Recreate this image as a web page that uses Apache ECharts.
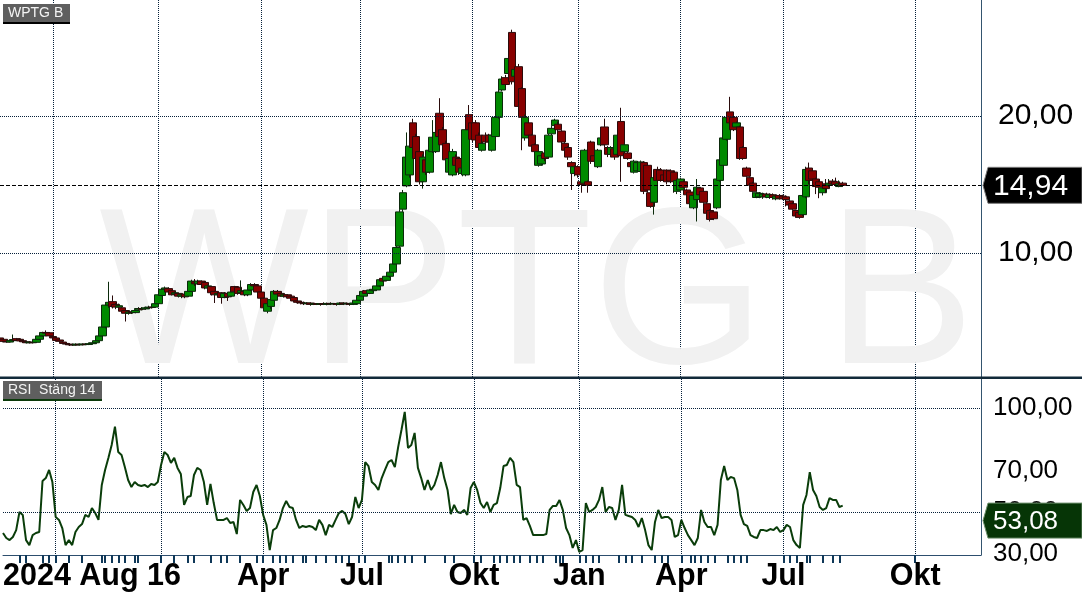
<!DOCTYPE html>
<html><head><meta charset="utf-8">
<script src="https://cdn.jsdelivr.net/npm/echarts@6/dist/echarts.min.js"></script>
<style>html,body{margin:0;padding:0;background:#fff;}#c{width:1082px;height:598px;}</style>
</head><body><div id="c"></div>
<script>
const symbolName = 'WPTG B';
const rsiTitle = 'RSI  Stäng 14';
// [open, close, low, high], one slot = 2 trading days
const candles = [
[3.80,3.60,3.55,3.85],[3.70,3.55,3.50,3.75],[3.55,3.50,3.45,3.60],[3.50,3.62,3.48,3.65],[3.60,3.68,3.55,4.05],
[3.75,3.62,3.58,3.80],[3.70,3.58,3.55,3.75],[3.60,3.52,3.45,3.65],[3.52,3.45,3.40,3.58],[3.45,3.50,3.40,3.55],
[3.48,3.45,3.40,3.52],[3.48,3.70,3.45,3.75],[3.70,3.95,3.65,4.00],[3.95,4.20,3.90,4.25],[4.20,4.15,4.05,4.35],
[4.18,3.95,3.90,4.22],[3.90,3.80,3.72,3.95],[3.80,3.62,3.58,3.85],[3.65,3.55,3.50,3.70],[3.50,3.40,3.35,3.55],
[3.40,3.35,3.28,3.45],[3.35,3.30,3.22,3.40],[3.32,3.28,3.22,3.38],[3.28,3.35,3.25,3.40],[3.33,3.30,3.25,3.38],
[3.30,3.36,3.26,3.40],[3.35,3.32,3.28,3.40],[3.32,3.38,3.28,3.42],[3.38,3.45,3.35,3.50],[3.45,3.60,3.42,3.65],
[3.60,3.95,3.55,4.00],
[3.95,4.60,3.90,4.70],[4.60,6.20,4.50,6.40],[6.20,6.40,6.00,7.90],[6.45,6.10,5.95,6.90],[6.25,6.05,5.90,6.35],
[6.05,6.15,5.95,6.30],[6.00,5.75,5.65,6.05],[5.80,5.60,5.00,5.85],[5.60,5.70,5.50,5.80],[5.70,5.65,5.55,5.80],
[5.65,5.80,5.60,5.90],[5.85,5.95,5.80,6.05],[5.95,5.90,5.82,6.05],[5.92,6.00,5.85,6.08],[6.00,6.05,5.95,6.15],
[6.05,6.02,5.95,6.12],[6.05,6.30,6.00,6.40],[6.30,6.95,6.25,7.00],[6.90,7.35,6.85,7.40],[7.35,7.45,7.20,7.55],
[7.40,7.15,7.05,7.50],[7.25,6.95,6.90,7.30],[7.00,7.10,6.90,7.20],[7.05,6.85,6.75,7.10],[6.85,6.95,6.70,7.05],
[7.00,6.80,6.70,7.05],[6.85,7.20,6.80,7.30],[7.20,7.95,7.15,8.05],[7.90,7.75,7.60,8.10],[7.75,7.95,7.70,8.05],
[7.95,7.70,7.60,8.00],[7.85,7.45,7.35,7.95],[7.45,7.60,7.30,7.70],[7.55,7.10,6.90,7.60],[7.20,6.95,6.35,7.25],
[6.95,7.05,6.85,7.15],[7.10,6.75,6.30,7.15],[6.75,7.05,6.70,7.15],[7.05,6.80,6.50,7.10],[6.85,7.15,6.80,7.25],
[7.55,7.20,7.10,7.60],[7.50,7.05,6.95,7.55],[7.10,7.25,7.00,8.00],[7.20,6.95,6.85,7.30],[6.95,7.30,6.85,7.35],
[7.30,7.70,7.25,7.80],[7.70,7.60,7.50,7.80],[7.60,7.15,7.05,7.70],[7.15,6.70,6.50,7.20],[6.70,6.00,5.80,6.75],
[5.75,6.30,5.60,6.40],[6.10,6.60,5.90,6.70],[6.55,7.20,6.50,7.30],[7.20,7.00,6.90,7.30],[7.05,6.85,6.80,7.10],
[6.85,6.95,6.75,7.05],[6.95,6.80,6.70,7.00],[6.85,6.70,6.60,6.90],[6.75,6.50,6.45,6.80],[6.50,6.40,6.30,6.55],
[6.40,6.35,6.25,6.45],[6.35,6.30,6.20,6.45],[6.30,6.35,6.25,6.40],[6.35,6.25,6.15,6.40],[6.25,6.30,6.20,6.35],
[6.30,6.25,6.20,6.35],[6.25,6.30,6.15,6.35],[6.30,6.25,6.20,6.40],[6.25,6.32,6.18,6.38],[6.32,6.28,6.20,6.40],
[6.28,6.30,6.20,6.35],[6.30,6.25,6.15,6.35],[6.25,6.35,6.20,6.40],[6.35,6.28,6.20,6.40],[6.28,6.32,6.20,6.38],
[6.30,6.25,6.15,6.35],[6.25,6.35,6.20,6.40],[6.30,6.55,6.25,6.60],[6.55,6.90,6.50,6.95],[6.85,7.20,6.80,7.30],
[7.25,7.05,7.00,7.30],[7.05,7.30,7.00,7.35],[7.25,7.35,7.20,7.45],[7.30,7.60,7.25,7.65],[7.60,8.05,7.55,8.10],
[8.15,7.95,7.90,8.20],[8.00,8.30,7.95,8.40],[8.30,8.60,8.20,8.70],[8.60,9.20,8.55,9.30],[9.20,10.40,9.10,10.60],
[10.50,13.00,10.40,13.20],[13.20,14.40,13.00,14.60],[14.90,17.00,14.80,18.80],[15.70,17.80,15.50,18.00],[19.50,17.70,17.50,19.80],
[18.50,16.90,16.50,18.70],[17.40,15.20,15.00,17.60],[15.20,17.00,14.70,17.20],[16.80,15.90,15.70,17.00],[15.90,17.50,15.80,17.70],
[17.40,18.45,17.30,19.70],[17.40,18.80,17.30,19.00],[20.20,18.50,18.30,21.30],[19.00,17.90,17.70,19.20],[18.00,16.80,16.60,18.20],
[15.90,16.90,15.80,17.10],[15.70,17.40,15.60,17.60],[17.00,16.40,16.20,17.20],[16.90,15.90,15.70,17.00],[15.80,16.20,15.60,16.40],
[15.70,19.00,15.60,19.20],[20.10,19.00,18.80,20.80],[19.50,18.30,18.10,19.70],[19.50,18.25,18.00,19.70],[18.60,17.70,17.50,18.80],
[17.50,18.00,17.40,18.10],[18.60,18.10,17.90,18.80],[18.60,18.10,17.90,18.70],[17.50,18.60,17.40,18.70],[18.50,19.90,18.40,20.00],
[19.90,21.75,19.80,21.90],[21.90,22.70,21.80,22.90],[22.80,22.30,22.10,23.00],[23.10,24.20,23.00,25.20],[26.10,22.50,22.30,26.30],
[22.90,23.40,22.70,23.60],[23.60,20.70,20.50,23.80],[22.00,19.90,17.50,22.10],[18.40,19.90,18.20,20.10],[19.50,18.60,18.40,19.70],
[18.60,17.80,17.60,18.70],[17.90,17.40,17.20,18.00],[16.40,17.40,16.30,17.50],[16.50,17.10,16.40,17.20],[17.30,16.90,16.70,17.40],
[17.00,18.60,16.90,18.70],[18.70,19.10,18.60,19.30],[19.30,19.70,19.20,19.80],[19.40,19.00,18.90,19.60],[18.90,18.10,17.90,19.00],
[18.00,17.50,17.30,18.10],[17.70,17.00,16.80,17.80],[16.60,16.30,14.60,16.70],[15.80,16.30,15.60,16.40],[16.30,15.70,15.50,16.40],
[15.20,15.00,14.40,15.30],[15.10,17.50,15.00,17.60],[15.20,14.95,14.40,15.30],[18.10,16.70,16.50,18.20],[17.10,16.70,16.50,17.20],
[16.30,17.50,16.20,17.60],[17.90,18.40,17.80,18.50],[19.20,17.90,17.70,19.80],[17.70,17.20,17.00,17.80],[17.20,17.70,17.10,17.80],
[17.60,17.00,16.80,17.70],[17.20,18.60,17.10,18.70],
[19.60,17.10,15.20,20.60],[17.40,17.90,17.30,18.00],[17.30,16.90,16.80,17.40],[16.60,16.30,16.20,16.70],[15.90,16.70,15.80,16.80],
[16.00,16.60,15.90,16.70],[15.95,16.65,15.90,16.75],[16.60,14.50,14.30,16.70],[16.40,14.60,14.40,16.50],[14.40,13.40,13.30,14.50],
[13.70,15.50,12.80,15.60],[16.10,15.30,15.10,16.30],[16.05,15.30,15.20,16.20],[15.70,15.30,15.20,15.80],[16.05,15.20,15.00,16.10],
[16.00,15.25,15.10,16.10],[15.90,15.20,14.40,16.00],[14.50,15.30,14.30,15.40],[14.60,15.40,14.50,15.50],[15.20,14.80,14.70,15.30],
[14.60,14.25,14.10,14.70],[14.45,13.60,13.50,14.50],[13.30,14.20,13.20,14.30],[13.90,14.80,12.30,15.40],[14.75,14.25,14.10,14.80],
[14.50,13.70,13.60,14.60],[13.60,12.90,12.80,13.70],[13.10,12.45,12.30,13.20],[13.00,12.50,12.40,13.10],[13.30,15.40,13.20,15.50],
[15.30,16.80,15.20,16.90],[16.40,18.40,16.30,18.50],[18.30,19.90,18.20,20.00],[20.30,19.50,19.40,21.40],[19.90,19.00,18.90,20.10],
[19.20,19.50,19.10,19.60],[19.20,16.90,16.80,19.30],[17.70,16.90,16.80,17.80],[16.20,15.60,15.50,16.30],[15.50,14.95,14.90,15.60],
[15.10,14.50,14.40,15.20],[14.05,14.40,14.00,14.50],[14.10,14.35,14.00,14.45],[14.10,14.30,13.95,14.40],[14.30,14.10,14.00,14.40],
[14.05,14.25,13.95,14.35],[14.25,14.05,13.90,14.35],[13.95,14.15,13.85,14.25],[14.20,14.00,13.90,14.30],[14.15,13.95,13.90,14.25],
[14.10,13.90,13.40,14.20],[13.80,13.50,13.40,13.90],[13.60,13.20,13.10,13.70],[13.10,12.70,12.60,13.15],[12.95,12.60,12.50,13.00],
[12.80,14.20,12.70,14.30],[14.10,16.10,14.00,16.30],[16.20,15.30,15.00,16.60],[16.00,15.40,15.30,16.20],[15.40,14.85,14.30,15.50],
[15.20,14.80,14.00,15.30],[14.40,14.75,14.20,14.85],[15.05,14.70,14.40,15.40],[14.95,15.10,14.80,15.40],[15.25,15.05,14.90,15.40],
[15.20,15.00,14.90,15.50],[14.85,15.05,14.80,15.30],[15.10,14.94,14.85,15.20]
];
const rsi = [
39.9,37.5,36.5,38.0,41.3,50.0,48.6,36.5,34.1,38.9,
39.9,40.4,64.9,66.3,70.2,64.4,47.6,46.2,42.3,34.1,
36.5,34.1,40.4,42.8,44.2,48.6,47.6,51.9,49.5,46.2,
63.0,70.2,76.0,82.2,91.0,78.8,77.4,71.6,65.4,62.0,
64.4,63.0,62.5,63.0,62.0,63.5,63.0,64.4,72.6,78.8,
77.4,73.6,76.0,71.2,68.3,53.4,57.2,57.7,67.8,71.2,
70.2,64.4,53.4,63.5,54.3,46.2,46.2,46.2,47.1,44.7,
45.2,39.4,55.8,53.4,50.5,51.9,59.6,63.0,57.7,48.6,
43.8,31.7,41.3,42.3,46.2,51.9,55.3,52.4,51.9,46.2,
42.3,43.3,42.8,43.3,42.8,41.3,46.2,43.8,38.9,43.8,
42.8,46.2,49.5,50.5,49.0,44.2,47.6,57.2,51.9,55.8,
74.0,72.0,64.4,63.0,60.6,66.3,70.2,74.0,75.0,71.6,
81.2,89.4,98.1,80.8,82.2,88.0,71.2,66.3,60.6,65.4,
60.6,63.0,67.8,74.0,66.3,60.6,49.0,53.4,50.0,49.5,
51.0,48.6,61.5,64.4,60.6,54.3,51.9,54.8,50.0,53.4,
54.3,61.5,72.1,72.6,76.0,74.0,63.0,62.0,46.2,47.1,
43.3,38.9,38.9,38.9,38.9,39.4,51.0,52.9,52.9,55.8,
51.0,42.3,38.9,32.7,36.5,30.8,31.7,54.3,50.0,51.0,
52.4,55.8,62.0,50.0,52.4,51.9,46.2,51.0,63.0,48.6,
48.1,47.6,46.2,42.8,47.1,41.3,34.1,31.7,45.2,51.0,
47.1,47.6,47.6,46.2,38.0,38.9,46.2,42.3,38.9,36.5,
34.1,37.5,51.0,45.2,42.8,42.8,38.9,43.8,65.4,72.1,
65.4,66.8,66.3,60.6,48.6,44.2,43.3,38.9,38.0,37.5,
41.3,41.3,40.9,41.8,41.3,42.8,40.4,41.3,43.8,42.8,
36.5,34.1,32.7,53.4,58.2,69.2,60.6,57.7,52.4,51.0,
51.9,56.7,55.8,55.8,52.4,53.08
];
const lastClose = 14.94;
const lastRsi = 53.08;
const priceTicks = [10, 20];
const rsiTicks = [30, 50, 70, 100];
const rsiGridValues = [50, 100];
const slotCount = 298;
const gridIdx = [16, 48, 79, 109, 143, 175, 206, 237, 277];
const labelIdx = [0, 79, 109, 143, 175, 206, 237, 277];
const labelText = ['2024 Aug 16', 'Apr', 'Jul', 'Okt', 'Jan', 'Apr', 'Jul', 'Okt'];
const tickIdx = [5,7,12,14,16,20,24,30,31,33,35,37,40,41,48,52,56,58,63,66,68,72,77,79,82,84,86,88,91,92,95,98,101,103,105,108,110,117,118,120,122,124,128,134,137,143,145,149,151,153,155,157,160,162,164,168,169,170,175,177,179,181,187,189,191,194,198,200,202,206,209,210,212,214,216,220,222,224,226,237,239,241,244,245,249,252,254,277];

const categories = Array.from({length: slotCount}, (_, i) => String(i));
const FONT = '"Liberation Sans", Arial, sans-serif';
const GRID_COLOR = '#06203a';
const fmt = v => Number(v).toFixed(2).replace('.', ',');
const gridSet = new Set(gridIdx);
const tickSet = new Set(tickIdx);
const labelMap = new Map(labelIdx.map((k, i) => [k, labelText[i]]));
const dotted = {type: [1, 1], color: GRID_COLOR, width: 1};

const chart = echarts.init(document.getElementById('c'), null, {renderer: 'canvas'});
const option = {
  animation: false,
  backgroundColor: '#ffffff',
  grid: [
    {left: 0, right: 101, top: 0, height: 378},
    {left: 0, right: 101, top: 379, height: 176}
  ],
  xAxis: [
    {type: 'category', gridIndex: 0, data: categories, boundaryGap: false,
     axisLine: {show: false}, axisTick: {show: false}, axisLabel: {show: false},
     splitLine: {show: true, interval: (i) => gridSet.has(i), lineStyle: dotted}},
    {type: 'category', gridIndex: 1, data: categories, boundaryGap: false,
     axisLine: {show: true, onZero: false, lineStyle: {color: '#2d4e6e', width: 1}},
     axisTick: {show: true, interval: (i) => tickSet.has(i), length: 8, lineStyle: {color: '#0f3858', width: 2}},
     axisLabel: {show: true, interval: (i) => labelMap.has(i), formatter: (v, i) => labelMap.get(i) || '',
       fontFamily: FONT, fontWeight: 'bold', fontSize: 30.5, color: '#000', margin: 6, alignMinLabel: 'left'},
     splitLine: {show: true, interval: (i) => gridSet.has(i), lineStyle: dotted}}
  ],
  yAxis: [
    {type: 'value', gridIndex: 0, position: 'right', min: 0.876, max: 28.467, scale: true,
     splitLine: {show: false}, axisTick: {show: false},
     axisLine: {show: true, lineStyle: {color: '#34556f', width: 1}},
     axisLabel: {customValues: priceTicks, formatter: fmt, fontFamily: FONT, fontSize: 30, color: '#000', margin: 17}},
    {type: 'value', gridIndex: 1, position: 'right', min: 29.33, max: 113.94, scale: true,
     splitLine: {show: false}, axisTick: {show: false},
     axisLine: {show: true, lineStyle: {color: '#34556f', width: 1}},
     axisLabel: {customValues: rsiTicks, formatter: fmt, fontFamily: FONT, fontSize: 26, color: '#000', margin: 12}}
  ],
  series: [
    {type: 'candlestick', xAxisIndex: 0, yAxisIndex: 0, data: candles, barWidth: 8,
     itemStyle: {color: '#008a00', color0: '#880000', borderColor: '#0b2a0b', borderColor0: '#2a0b0b', borderWidth: 1},
     markLine: {silent: true, symbol: 'none', label: {show: false}, animation: false,
       data: priceTicks.map(v => ({yAxis: v, lineStyle: dotted}))
         .concat([{yAxis: lastClose, lineStyle: {type: [4, 2], color: '#000', width: 1}}])}},
    {type: 'line', xAxisIndex: 1, yAxisIndex: 1, data: rsi, symbol: 'none', showSymbol: false,
     lineStyle: {color: '#0a3d0a', width: 2},
     markLine: {silent: true, symbol: 'none', label: {show: false}, animation: false,
       data: rsiGridValues.map(v => ({yAxis: v, lineStyle: dotted}))}}
  ]
};
chart.setOption(option);

const yPrice = chart.convertToPixel({yAxisIndex: 0}, lastClose);
const yRsi = chart.convertToPixel({yAxisIndex: 1}, lastRsi) + 15;
const axisX = chart.convertToPixel({xAxisIndex: 0}, String(slotCount - 1));
function badge(y, h, fill, stroke, text, size) {
  return [
    {type: 'polygon', z: 100, shape: {points: [[axisX + 2, y], [axisX + 7, y - h / 2], [1082, y - h / 2], [1082, y + h / 2], [axisX + 7, y + h / 2]]},
     style: {fill: fill, stroke: stroke, lineWidth: 1}},
    {type: 'text', z: 101, style: {text: text, x: axisX + 12, y: y + 1, font: size + 'px ' + FONT, fill: '#ffffff', verticalAlign: 'middle', align: 'left'}}
  ];
}
chart.setOption({
  graphic: [
    {type: 'text', z: 0, silent: true, style: {text: symbolName, x: 537, y: 302, font: '222px ' + FONT, fill: '#f1f1f1', align: 'center', verticalAlign: 'middle'}},
    {type: 'rect', z: 50, shape: {x: 0, y: 376.5, width: 1082, height: 2.5}, style: {fill: '#122a3a'}},
    {type: 'rect', z: 50, shape: {x: 3, y: 4, width: 67, height: 18}, style: {fill: '#5f5f5f'}},
    {type: 'rect', z: 50, shape: {x: 3, y: 22, width: 67, height: 2}, style: {fill: '#000000'}},
    {type: 'text', z: 51, style: {text: symbolName, x: 8, y: 13.5, font: '14px ' + FONT, fill: '#f4f4f4', verticalAlign: 'middle'}},
    {type: 'rect', z: 50, shape: {x: 3, y: 381, width: 99, height: 18}, style: {fill: '#5f5f5f'}},
    {type: 'rect', z: 50, shape: {x: 3, y: 399, width: 99, height: 2}, style: {fill: '#0a3a0a'}},
    {type: 'text', z: 51, style: {text: rsiTitle, x: 8, y: 390.5, font: '14px ' + FONT, fill: '#f4f4f4', verticalAlign: 'middle'}}
  ].concat(badge(yPrice, 36, '#000000', '#777777', fmt(lastClose), 30))
   .concat(badge(yRsi, 35, '#063506', '#6b8e6b', fmt(lastRsi), 26))
});
</script>
</body></html>
